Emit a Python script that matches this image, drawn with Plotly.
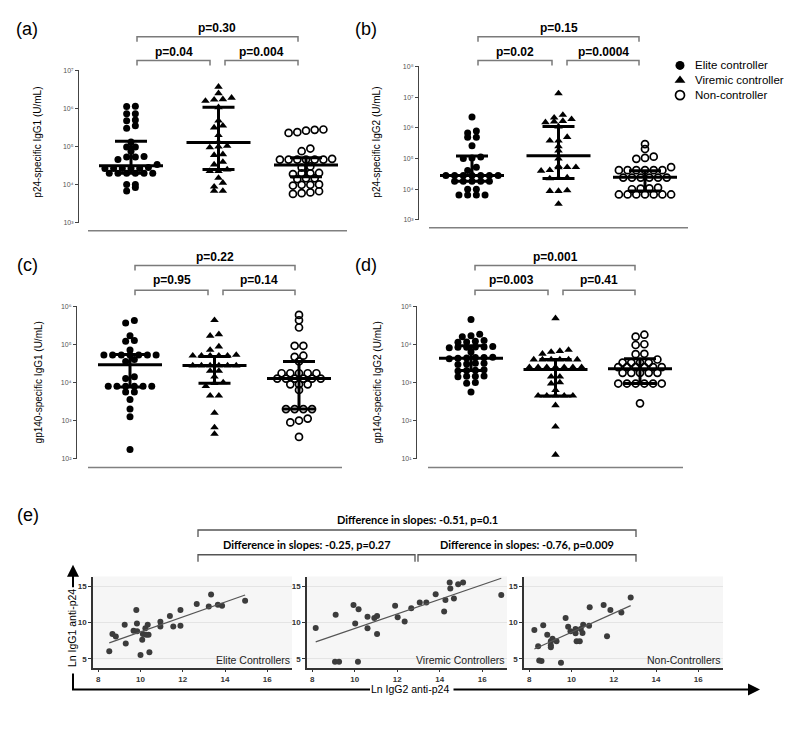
import numpy as np
import plotly.graph_objects as go

W, H = 800, 742
def fx(p): return p / W
def fy(p): return 1 - p / H

group_names = ["Elite controller", "Viremic controller", "Non-controller"]

# ---------------- data: log10(U/mL) ----------------
# (a) p24-specific IgG1
a_ec = [6.06, 6.05, 5.86, 5.86, 5.70, 5.68, 5.55, 5.48, 5.12, 4.99, 4.99, 4.88, 4.74, 4.73, 4.73, 4.66,
        4.53, 4.45, 4.43, 4.43, 4.43, 4.43, 4.43, 4.30, 4.30, 4.30, 4.30, 4.30, 4.30, 4.01, 4.01, 3.93, 3.84]
a_vc = [6.57, 6.40, 6.28, 6.24, 6.23, 6.20, 6.03, 5.68, 5.55, 5.50, 5.30, 5.12, 5.02, 5.00, 4.98, 4.80,
        4.78, 4.60, 4.53, 4.40, 4.36, 4.36, 4.18, 4.05, 3.95, 3.84, 3.84]
a_nc = [5.45, 5.42, 5.38, 5.36, 5.44, 4.95, 4.88, 4.68, 4.66, 4.66, 4.66, 4.66, 4.66, 4.66, 4.48, 4.45,
        4.31, 4.30, 4.30, 4.28, 4.17, 4.17, 4.15, 4.01, 4.00, 4.00, 3.98, 3.83, 3.80, 3.78, 3.76]
a_median = [4.50, 5.11, 4.52]
a_q1 = [4.30, 4.40, 4.21]
a_q3 = [5.14, 6.03, 4.71]

# (b) p24-specific IgG2
b_ec = [6.35, 5.90, 5.83, 5.69, 5.69, 5.42, 5.05, 5.02, 5.00, 4.72, 4.61, 4.45, 4.45, 4.45, 4.45, 4.45,
        4.45, 4.45, 4.26, 4.26, 4.26, 4.26, 4.26, 4.00, 4.00, 3.81, 3.81, 3.81, 3.81]
b_vc = [7.12, 6.42, 6.33, 6.28, 6.22, 6.20, 6.18, 6.04, 5.70, 5.58, 5.58, 5.40, 5.26, 5.00, 4.75, 4.72,
        4.72, 4.71, 4.62, 4.60, 4.38, 4.36, 4.35, 3.96, 3.94, 3.94, 3.52]
b_nc = [5.47, 5.31, 5.06, 5.02, 4.99, 4.72, 4.62, 4.62, 4.62, 4.62, 4.62, 4.62, 4.38, 4.38, 4.38, 4.38,
        4.38, 4.38, 4.05, 4.03, 4.02, 4.00, 3.83, 3.83, 3.83, 3.83, 3.83, 3.83, 3.83]
b_median = [4.45, 5.09, 4.39]
b_q1 = [4.26, 4.35, 3.94]
b_q3 = [5.08, 6.04, 4.60]

# (c) gp140-specific IgG1
c_ec = [5.62, 5.56, 5.22, 5.10, 5.08, 4.85, 4.72, 4.72, 4.72, 4.72, 4.72, 4.72, 4.72, 4.60, 4.55, 4.15,
        4.10, 3.90, 3.90, 3.90, 3.90, 3.90, 3.90, 3.75, 3.75, 3.55, 3.30, 3.10, 2.24]
c_vc = [5.63, 5.26, 5.22, 4.94, 4.85, 4.72, 4.70, 4.70, 4.70, 4.70, 4.70, 4.44, 4.44, 4.44, 4.44, 4.44,
        4.44, 4.30, 4.30, 4.15, 4.00, 3.98, 3.90, 3.65, 3.65, 3.20, 2.82, 2.65]
c_nc = [5.77, 5.63, 5.44, 4.96, 4.96, 4.70, 4.67, 4.55, 4.24, 4.24, 4.24, 4.24, 4.24, 4.10, 4.10, 4.10,
        4.10, 4.10, 4.10, 3.95, 3.95, 3.95, 3.80, 3.30, 3.30, 3.30, 3.30, 3.05, 3.00, 2.95, 2.57]
c_median = [4.46, 4.44, 4.10]
c_q1 = [3.88, 3.98, 3.30]
c_q3 = [4.73, 4.68, 4.55]

# (d) gp140-specific IgG2
d_ec = [4.65, 4.26, 4.22, 4.20, 4.10, 4.08, 4.06, 4.05, 3.94, 3.93, 3.93, 3.92, 3.92, 3.91, 3.80, 3.66,
        3.65, 3.65, 3.64, 3.63, 3.62, 3.50, 3.50, 3.48, 3.47, 3.33, 3.32, 3.31, 3.30, 3.17, 3.16, 3.16,
        3.15, 3.00, 2.98, 2.75]
d_vc = [4.68, 3.85, 3.82, 3.80, 3.75, 3.60, 3.60, 3.60, 3.60, 3.60, 3.60, 3.40, 3.40, 3.40, 3.40, 3.40,
        3.40, 3.40, 3.15, 3.15, 3.00, 2.97, 2.80, 2.65, 2.65, 2.65, 2.65, 2.65, 2.40, 1.84, 1.10]
d_nc = [4.25, 4.20, 4.00, 3.98, 3.75, 3.74, 3.60, 3.52, 3.52, 3.52, 3.52, 3.40, 3.40, 3.40, 3.40, 3.40,
        3.40, 3.25, 3.25, 3.25, 3.25, 3.25, 2.97, 2.97, 2.97, 2.97, 2.97, 2.97, 2.45]
d_median = [3.63, 3.34, 3.36]
d_q1 = [3.31, 2.64, 2.97]
d_q3 = [3.96, 3.60, 3.62]

# p-values: (EC vs VC, VC vs NC, EC vs NC)
a_p = ["p=0.04", "p=0.004", "p=0.30"]
b_p = ["p=0.02", "p=0.0004", "p=0.15"]
c_p = ["p=0.95", "p=0.14", "p=0.22"]
d_p = ["p=0.003", "p=0.41", "p=0.001"]

# (e) Ln IgG2 anti-p24 (x) vs Ln IgG1 anti-p24 (y)
ec_igg2 = [8.52, 8.67, 8.83, 9.25, 9.30, 9.67, 9.80, 9.83, 9.84, 10.00, 10.08, 10.11, 10.23, 10.34, 10.38,
           10.27, 10.42, 10.94, 10.94, 11.39, 11.55, 11.89, 11.89, 12.66, 13.23, 13.34, 13.66, 13.86, 14.95]
ec_igg1 = [6.05, 8.40, 8.05, 9.68, 7.10, 8.86, 11.70, 9.86, 8.77, 5.50, 7.60, 8.40, 9.20, 9.68, 8.30,
           8.30, 5.90, 10.10, 9.45, 10.90, 9.45, 11.70, 9.55, 12.55, 12.20, 13.85, 12.45, 12.30, 13.00]
vc_igg2 = [8.16, 9.07, 9.26, 9.10, 9.94, 10.02, 10.18, 10.15, 10.60, 10.60, 10.92, 11.05, 11.05, 11.90,
           12.02, 12.35, 12.66, 13.06, 13.37, 13.81, 14.21, 14.27, 14.47, 14.50, 14.67, 14.87, 15.10, 16.90]
vc_igg1 = [9.23, 4.60, 4.60, 11.05, 12.40, 9.87, 11.80, 4.60, 10.77, 9.20, 10.60, 10.90, 8.40, 12.30,
           10.73, 10.14, 11.95, 12.73, 12.73, 13.87, 11.50, 13.10, 15.50, 14.68, 13.30, 15.27, 15.50, 13.77]
nc_igg2 = [8.24, 8.42, 8.47, 8.58, 8.66, 8.85, 9.02, 9.02, 9.02, 9.10, 9.29, 9.50, 9.72, 9.84, 9.95,
           10.19, 10.19, 10.24, 10.39, 10.44, 10.52, 10.55, 10.83, 10.86, 11.52, 11.68, 11.84, 12.36, 12.80]
nc_igg1 = [8.96, 6.73, 4.77, 4.69, 9.60, 8.32, 7.40, 6.87, 6.60, 7.77, 7.41, 4.45, 10.60, 9.40, 8.78,
           9.10, 8.50, 7.41, 7.41, 9.10, 8.55, 9.68, 9.54, 12.10, 12.40, 8.10, 11.73, 11.37, 13.42]
slope_texts = ["Difference in slopes: -0.25, p=0.27", "Difference in slopes: -0.76, p=0.009",
               "Difference in slopes: -0.51, p=0.1"]

# ---------------- helpers ----------------
SUP = str.maketrans("0123456789", "⁰¹²³⁴⁵⁶⁷⁸⁹")
def aname(i, k): return f"{k}axis" if i == 1 else f"{k}axis{i}"
def aref(i, k): return k if i == 1 else f"{k}{i}"

def swarm(vals, center, step, tol):
    v = np.sort(np.asarray(vals, dtype=float))
    xs = np.zeros(len(v))
    rows, cur = [], [0]
    for i in range(1, len(v)):
        if v[i] - v[cur[0]] < tol:
            cur.append(i)
        else:
            rows.append(cur); cur = [i]
    rows.append(cur)
    for r in rows:
        n = len(r)
        for k, idx in enumerate(r):
            xs[idx] = center + (k - (n - 1) / 2) * step
    return xs, v

styles = [
    dict(symbol="circle", size=7, color="black", line=dict(width=0)),
    dict(symbol="triangle-up", size=7.5, color="black", line=dict(width=0)),
    dict(symbol="circle-open", size=7, color="black", line=dict(width=1.7, color="black")),
]

FONT = "Liberation Sans"
fig = go.Figure()
layout = dict(width=W, height=H, margin=dict(l=0, r=0, t=0, b=0), paper_bgcolor="white",
              plot_bgcolor="white", showlegend=False, font=dict(family=FONT, color="black"))
shapes, annots = [], []

def line_px(x0, y0, x1, y1, color="#7a7a7a", width=1.5):
    shapes.append(dict(type="line", xref="paper", yref="paper", x0=fx(x0), y0=fy(y0), x1=fx(x1), y1=fy(y1),
                       line=dict(color=color, width=width)))

def bracket(x0, x1, y, drop, text, ty, size=12, family=FONT, color="#7a7a7a", width=1.5):
    path = f"M {fx(x0)},{fy(y+drop)} L {fx(x0)},{fy(y)} L {fx(x1)},{fy(y)} L {fx(x1)},{fy(y+drop)}"
    shapes.append(dict(type="path", xref="paper", yref="paper", path=path, line=dict(color=color, width=width)))
    annots.append(dict(xref="paper", yref="paper", x=fx((x0 + x1) / 2), y=fy(ty), text=f"<b>{text}</b>",
                       showarrow=False, xanchor="center", yanchor="middle", font=dict(size=size, family=family)))

def text_px(x, y, text, size, angle=0, xanchor="center", family=FONT, color="black"):
    annots.append(dict(xref="paper", yref="paper", x=fx(x), y=fy(y), text=text, showarrow=False,
                       xanchor=xanchor, yanchor="middle", textangle=angle, font=dict(size=size, family=family, color=color)))

dot_panels = [
    dict(i=1, data=(a_ec, a_vc, a_nc), med=a_median, q1=a_q1, q3=a_q3, pv=a_p, xdom=(79, 347), ydom=(221, 67),
         yr=(3, 7), cats=(131, 306), base=(88, 347, 229), title="p24-specific IgG1 (U/mL)", tpos=(38, 140),
         lab="(a)", lpos=(27, 25), top=(137, 298), mid=(210, 225), by=(33, 57), ty=(24, 48)),
    dict(i=2, data=(b_ec, b_vc, b_nc), med=b_median, q1=b_q1, q3=b_q3, pv=b_p, xdom=(419, 688), ydom=(218, 63),
         yr=(3, 8), cats=(472, 645), base=(429, 688, 226), title="p24-specific IgG2 (U/mL)", tpos=(377, 140),
         lab="(b)", lpos=(366, 25), top=(478, 639), mid=(552, 567), by=(33, 57), ty=(24, 48)),
    dict(i=3, data=(c_ec, c_vc, c_nc), med=c_median, q1=c_q1, q3=c_q3, pv=c_p, xdom=(77, 342), ydom=(459, 305),
         yr=(2, 6), cats=(130, 299), base=(88, 342, 468), title="gp140-specific IgG1 (U/mL)", tpos=(38, 382),
         lab="(c)", lpos=(27, 263), top=(135, 295), mid=(208, 223), by=(264, 289), ty=(255, 279)),
    dict(i=4, data=(d_ec, d_vc, d_nc), med=d_median, q1=d_q1, q3=d_q3, pv=d_p, xdom=(417, 683), ydom=(459, 305),
         yr=(1, 5), cats=(471, 640), base=(428, 683, 468), title="gp140-specific IgG2 (U/mL)", tpos=(377, 382),
         lab="(d)", lpos=(366, 263), top=(475, 635), mid=(548, 563), by=(264, 289), ty=(255, 279)),
]

for p in dot_panels:
    i = p["i"]
    ppu = (p["cats"][1] - p["cats"][0]) / 2
    xr = [(p["xdom"][0] - p["cats"][0]) / ppu, (p["xdom"][1] - p["cats"][0]) / ppu]
    ppd = (p["ydom"][0] - p["ydom"][1]) / (p["yr"][1] - p["yr"][0])
    tol = 4.0 / ppd
    step = 8.7 / ppu
    layout[aname(i, "x")] = dict(domain=[fx(p["xdom"][0]), fx(p["xdom"][1])], range=xr, visible=False,
                                 anchor=aref(i, "y"), fixedrange=True)
    tv = [10 ** k for k in range(p["yr"][0], p["yr"][1] + 1)]
    tt = ["10" + str(k).translate(SUP) for k in range(p["yr"][0], p["yr"][1] + 1)]
    layout[aname(i, "y")] = dict(domain=[fy(p["ydom"][0]), fy(p["ydom"][1])], type="log", range=list(p["yr"]),
                                 anchor=aref(i, "x"), showline=True, linecolor="#444", linewidth=1,
                                 ticks="outside", ticklen=3, tickwidth=1, tickcolor="#444",
                                 tickvals=tv, ticktext=tt, tickfont=dict(size=7, color="#555"),
                                 showgrid=False, zeroline=False)
    xa, ya = aref(i, "x"), aref(i, "y")
    for g, vals in enumerate(p["data"]):
        xs, vs = swarm(vals, g, step, tol)
        fig.add_trace(go.Scatter(x=xs, y=10 ** vs, mode="markers", marker=styles[g], xaxis=xa, yaxis=ya,
                                 cliponaxis=False, name=group_names[g]))
        mw, cw = 32 / ppu, 16 / ppu
        m, lo, hi = 10 ** p["med"][g], 10 ** p["q1"][g], 10 ** p["q3"][g]
        lw = dict(color="black", width=3)
        fig.add_trace(go.Scatter(x=[g - mw, g + mw], y=[m, m], mode="lines", line=lw, xaxis=xa, yaxis=ya))
        fig.add_trace(go.Scatter(x=[g, g], y=[lo, hi], mode="lines", line=lw, xaxis=xa, yaxis=ya))
        fig.add_trace(go.Scatter(x=[g - cw, g + cw], y=[lo, lo], mode="lines", line=lw, xaxis=xa, yaxis=ya))
        fig.add_trace(go.Scatter(x=[g - cw, g + cw], y=[hi, hi], mode="lines", line=lw, xaxis=xa, yaxis=ya))
    bx0, bx1, by = p["base"]
    line_px(bx0, by, bx1, by, color="#808080", width=1.5)
    t0, t1 = p["top"]; m0, m1 = p["mid"]
    bracket(t0, m0, p["by"][1], 5, p["pv"][0], p["ty"][1])
    bracket(m1, t1, p["by"][1], 5, p["pv"][1], p["ty"][1])
    bracket(t0, t1, p["by"][0], 5, p["pv"][2], p["ty"][0])
    text_px(p["tpos"][0], p["tpos"][1], p["title"], 10, angle=-90)
    text_px(p["lpos"][0], p["lpos"][1], p["lab"], 18)

# legend (manual)
layout["xaxis8"] = dict(domain=[fx(665), 1], range=[665, 800], visible=False, anchor="y8")
layout["yaxis8"] = dict(domain=[fy(100), fy(50)], range=[100, 50], visible=False, anchor="x8")
for g in range(3):
    st = dict(styles[g]); st["size"] = st["size"] + 2
    fig.add_trace(go.Scatter(x=[680], y=[62 + 15 * g], mode="markers", marker=st, xaxis="x8", yaxis="y8"))
    text_px(693, 62 + 15 * g, group_names[g], 11.5, xanchor="left")

# (e) regression panels
e_panels = [
    dict(i=5, x=ec_igg2, y=ec_igg1, xdom=(93, 292), label="Elite Controllers"),
    dict(i=6, x=vc_igg2, y=vc_igg1, xdom=(307, 507), label="Viremic Controllers"),
    dict(i=7, x=nc_igg2, y=nc_igg1, xdom=(524, 723), label="Non-Controllers"),
]
for p in e_panels:
    i = p["i"]; xa, ya = aref(i, "x"), aref(i, "y")
    layout[aname(i, "x")] = dict(domain=[fx(p["xdom"][0]), fx(p["xdom"][1])], range=[7.75, 17.17], anchor=ya,
                                 tickvals=[8, 10, 12, 14, 16], ticks="outside", ticklen=3, tickcolor="#333",
                                 showline=True, linecolor="#333", linewidth=1.5, showgrid=False, zeroline=False,
                                 tickfont=dict(size=8, color="#333", weight="bold"))
    layout[aname(i, "y")] = dict(domain=[fy(670), fy(578)], range=[3.77, 16.32], anchor=xa,
                                 tickvals=[5, 10, 15], ticks="outside", ticklen=3, tickcolor="#333",
                                 showline=True, linecolor="#333", linewidth=1.5, showgrid=True,
                                 gridcolor="#e4e4e4", gridwidth=1, zeroline=False,
                                 tickfont=dict(size=8, color="#333", weight="bold"))
    shapes.append(dict(type="rect", xref=f"{xa} domain", yref=f"{ya} domain", x0=0, x1=1, y0=0, y1=1,
                       fillcolor="#f6f6f6", line=dict(width=0), layer="below"))
    xv, yv = np.array(p["x"]), np.array(p["y"])
    fig.add_trace(go.Scatter(x=xv, y=yv, mode="markers", marker=dict(size=6, color="#3c3c3c"),
                             xaxis=xa, yaxis=ya))
    k, b0 = np.polyfit(xv, yv, 1)
    xl = np.array([xv.min(), xv.max()])
    fig.add_trace(go.Scatter(x=xl, y=k * xl + b0, mode="lines", line=dict(color="#555", width=1.2),
                             xaxis=xa, yaxis=ya))
    annots.append(dict(xref=f"{xa} domain", yref=f"{ya} domain", x=1, y=0, xanchor="right", yanchor="bottom",
                       text=p["label"], showarrow=False, font=dict(size=10.5, color="#222")))

text_px(28, 516, "(e)", 18)
bracket(198, 636, 531, 7, slope_texts[2], 520, size=11, family="Lato", color="#555", width=1.3)
bracket(198, 415, 556, 7, slope_texts[0], 546, size=11, family="Lato", color="#555", width=1.3)
bracket(418, 636, 556, 7, slope_texts[1], 546, size=11, family="Lato", color="#555", width=1.3)

# big axes arrows
line_px(73, 676, 73, 692, color="black", width=2)
line_px(72, 692, 370, 692, color="black", width=2)
annots.append(dict(xref="paper", yref="paper", x=fx(73), y=fy(566), ax=0, ay=24, text="", showarrow=True,
                   arrowhead=2, arrowsize=1.2, arrowwidth=2, arrowcolor="black"))
annots.append(dict(xref="paper", yref="paper", x=fx(760), y=fy(692), ax=-308, ay=0, text="", showarrow=True,
                   arrowhead=2, arrowsize=1.2, arrowwidth=2, arrowcolor="black"))
text_px(72, 630, "Ln IgG1 anti-p24", 10.5, angle=-90)
text_px(410, 692, "Ln IgG2 anti-p24", 10.5)

layout["shapes"] = shapes
layout["annotations"] = annots
fig.update_layout(**layout)
fig.write_html("out.html", config={"displayModeBar": False},
               post_script="document.body.style.margin='0';document.body.style.overflow='hidden';")
